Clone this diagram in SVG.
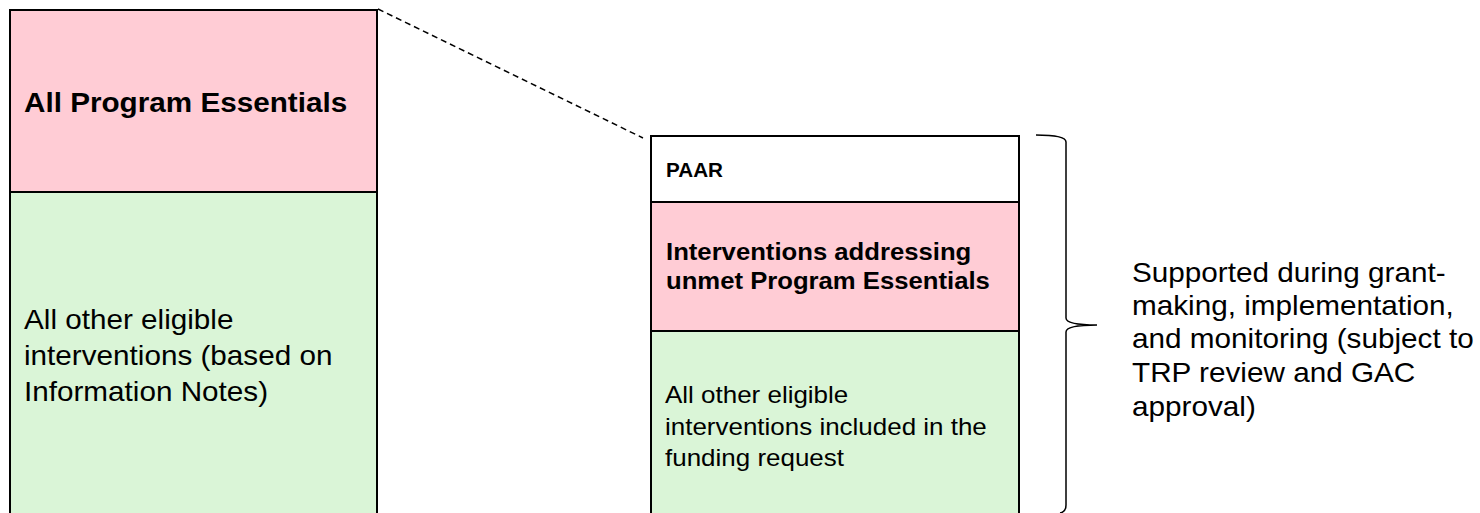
<svg xmlns="http://www.w3.org/2000/svg" width="1480" height="513" viewBox="0 0 1480 513">
<style>
.box{stroke:#000;stroke-width:2}
.pink{fill:#FFCCD5}
.green{fill:#DAF5D7}
.white{fill:#FFFFFF}
.t{font-family:"Liberation Sans",Arial,sans-serif;fill:#000}
.b{font-weight:bold}
.conn{fill:none;stroke:#000;stroke-width:1.5}
</style>
<rect width="1480" height="513" fill="#fff"/>
<g id="left-essentials">
<rect class="box pink" x="10" y="10" width="367" height="182"/>
<text class="t b" font-size="28" transform="translate(24,112) scale(1.06,1)">All Program Essentials</text>
</g>
<g id="left-other">
<rect class="box green" x="10" y="192" width="367" height="325"/>
<text class="t" font-size="28" transform="translate(24,0) scale(1.06,1)"><tspan x="0" y="329">All other eligible</tspan><tspan x="0" y="365">interventions (based on</tspan><tspan x="0" y="401">Information Notes)</tspan></text>
</g>
<g id="paar">
<rect class="box white" x="651" y="136" width="368" height="66"/>
<text class="t b" font-size="19.5" transform="translate(666,177) scale(1.06,1)">PAAR</text>
</g>
<g id="unmet-essentials">
<rect class="box pink" x="651" y="202" width="368" height="129"/>
<text class="t b" font-size="24" transform="translate(666,0) scale(1.07,1)"><tspan x="0" y="260">Interventions addressing</tspan><tspan x="0" y="289">unmet Program Essentials</tspan></text>
</g>
<g id="funding-request">
<rect class="box green" x="651" y="331" width="368" height="186"/>
<text class="t" font-size="24.5" transform="translate(665,0) scale(1.06,1)"><tspan x="0" y="403">All other eligible</tspan><tspan x="0" y="435">interventions included in the</tspan><tspan x="0" y="466">funding request</tspan></text>
</g>
<g id="supported-label">
<text class="t" font-size="27" transform="translate(1132,0) scale(1.1,1)"><tspan x="0" y="282">Supported during grant-</tspan><tspan x="0" y="315">making, implementation,</tspan><tspan x="0" y="348">and monitoring (subject to</tspan><tspan x="0" y="382">TRP review and GAC</tspan><tspan x="0" y="416">approval)</tspan></text>
</g>
<g id="connectors">
<path class="conn" d="M378,9 L643,138" stroke-dasharray="6,4"/>
<path class="conn" d="M1036,135 Q1066,135 1066,142 L1066,318 Q1066,325 1097,325 Q1066,325 1066,332 L1066,505 Q1066,512 1060,513"/>
</g>
</svg>
